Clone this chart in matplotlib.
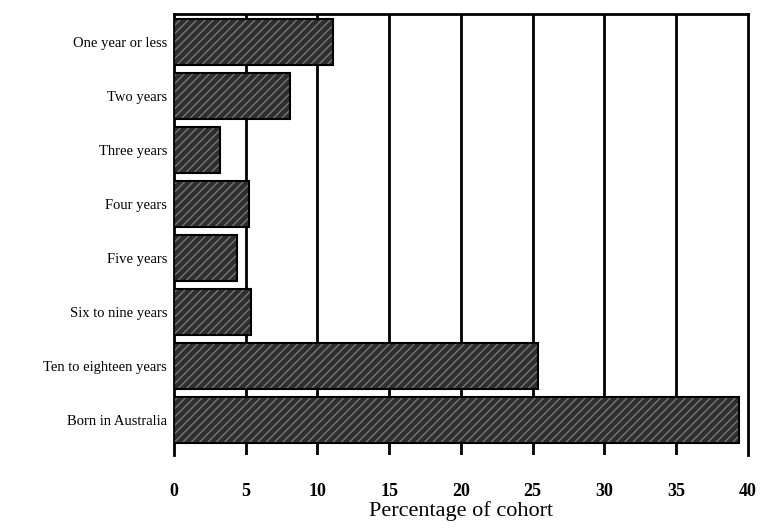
import numpy as np
import matplotlib
matplotlib.use("Agg")
import matplotlib.pyplot as plt

categories = ["One year or less", "Two years", "Three years", "Four years",
              "Five years", "Six to nine years", "Ten to eighteen years",
              "Born in Australia"]
percent = [11.1, 8.1, 3.2, 5.2, 4.4, 5.4, 25.4, 39.4]
xticks = [0, 5, 10, 15, 20, 25, 30, 35, 40]

plt.rcParams["font.family"] = ["Liberation Serif", "DejaVu Serif"]

fig = plt.figure(figsize=(7.63, 5.29), dpi=100)
ax = fig.add_axes([0.228, 0.140, 0.752, 0.834])

y = np.arange(len(categories))
# speckled grey fill, then a black outline on top
ax.barh(y, percent, height=0.85, color="#2e2e2e", hatch="////",
        edgecolor="#777777", linewidth=0, zorder=3)
ax.barh(y, percent, height=0.85, fill=False, edgecolor="black",
        linewidth=1.5, zorder=4)

for v in xticks[1:-1]:
    ax.axvline(v, color="black", lw=2.0, zorder=1)

ax.set_xlim(0, 40)
ax.set_ylim(len(categories) - 1 + 0.65, -0.52)
ax.set_yticks(y)
ax.set_yticklabels(categories, fontsize=10.5)
ax.set_xticks(xticks)
ax.set_xticklabels([str(t) for t in xticks], fontsize=13, fontweight="bold")
ax.tick_params(axis="both", length=0)
ax.tick_params(axis="x", pad=20)
ax.tick_params(axis="y", pad=5)
ax.set_xlabel("Percentage of cohort", fontsize=16, labelpad=1)

for s in ax.spines.values():
    s.set_linewidth(2.0)
ax.spines["bottom"].set_visible(False)

fig.savefig("out.png", dpi=100)
